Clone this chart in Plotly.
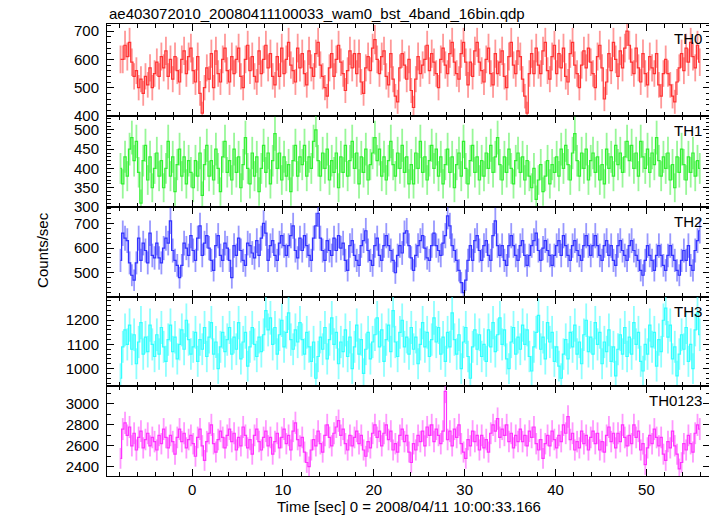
import numpy as np
import plotly.graph_objects as go

# ---- data: 0.25 s bins starting at -8 s ----
bin_width = 0.25
t_start = -8.0

th0 = [600,600,650,610,660,590,540,560,500,530,480,540,510,570,500,550,
       590,540,610,570,630,540,600,530,610,560,520,600,630,550,610,640,
       560,520,610,480,410,500,570,530,620,500,630,550,520,600,640,560,
       520,610,550,600,640,540,500,600,650,560,610,540,520,630,550,600,
       650,570,620,540,510,610,540,640,550,600,660,580,560,520,640,570,
       620,550,510,630,570,540,620,660,580,540,500,470,570,620,540,600,
       650,590,550,490,560,630,570,620,550,620,520,480,570,610,560,640,
       670,600,550,610,630,540,510,620,530,470,450,570,620,580,530,600,
       490,430,530,610,550,580,600,650,560,620,590,550,500,600,640,580,
       550,620,660,590,550,530,620,660,590,510,590,540,630,660,590,560,
       520,600,640,550,510,620,550,590,630,540,500,610,660,580,550,630,
       610,530,470,410,550,620,550,640,580,550,630,660,560,530,610,650,
       550,620,570,640,540,520,620,660,580,550,500,580,630,570,640,590,
       550,500,610,650,570,460,520,620,560,660,600,540,630,570,640,700,
       650,590,550,640,570,520,620,550,510,610,570,550,620,510,470,550,
       600,550,510,470,450,520,570,620,560,640,590,660,610,570,650,590]

th1 = [400,360,430,380,450,480,420,470,390,310,420,460,370,430,350,400,
       440,380,420,350,400,470,380,430,340,410,450,380,430,360,420,390,
       350,420,380,440,330,410,460,380,420,370,450,400,340,430,470,390,
       420,370,450,390,430,350,410,480,400,360,440,380,430,340,400,460,
       390,440,360,420,490,400,440,370,430,380,410,340,420,460,380,430,
       410,460,380,430,400,470,500,420,380,440,400,450,370,420,390,440,
       350,430,390,460,380,420,470,400,440,360,430,390,450,370,410,440,
       480,420,450,380,430,370,420,470,410,380,440,400,460,390,430,360,
       410,360,440,400,470,390,430,370,420,460,400,450,380,430,360,410,
       450,390,430,350,410,440,380,470,400,360,420,460,390,430,370,420,
       380,440,400,460,390,430,480,410,370,430,390,450,400,360,420,440,
       390,430,370,420,380,350,400,320,370,410,340,380,420,360,410,390,
       430,380,450,400,460,410,370,440,490,420,380,440,400,450,370,420,
       440,390,430,370,410,360,450,400,430,380,460,410,440,390,430,470,
       420,460,400,440,380,470,430,400,450,390,440,410,480,420,380,430,
       400,440,370,410,350,430,390,450,410,370,430,390,440,380,420,400]

th2 = [550,660,640,630,540,490,470,540,640,550,620,590,540,660,570,560,
       620,560,540,600,640,620,710,590,550,530,480,530,620,600,570,650,
       590,550,640,690,570,620,650,600,550,510,610,650,570,550,620,600,
       550,480,610,570,640,590,550,530,620,610,580,560,630,570,640,700,
       660,550,610,630,570,550,620,650,610,570,610,650,690,590,560,640,
       590,650,610,570,550,640,690,740,640,590,550,630,590,570,640,590,
       650,600,620,550,510,610,630,570,550,530,610,630,670,590,550,530,
       610,640,570,550,610,650,610,590,550,500,570,610,580,660,670,610,
       560,510,570,610,630,650,600,560,550,610,660,610,590,570,620,650,
       730,690,610,590,550,510,460,420,470,550,610,550,630,650,590,550,
       610,630,570,550,650,710,610,570,610,550,530,610,650,610,570,550,
       610,630,570,530,570,610,630,660,590,550,600,630,590,570,530,570,
       610,630,570,650,610,570,550,610,630,590,570,550,610,650,610,570,
       610,650,610,570,550,610,630,570,610,550,530,610,630,590,570,550,
       610,630,590,570,550,510,490,550,610,570,550,510,570,610,570,530,
       510,570,610,570,550,510,490,550,590,550,610,530,510,590,630,670]

th3 = [960,1090,1160,1100,1180,1080,1140,1020,1110,1190,1060,1130,1070,1180,1100,1050,
       1140,1060,1170,1090,1030,1120,1180,1070,1130,1040,1100,1160,1080,1200,1120,1060,
       1090,1150,1030,1120,1080,1170,1050,1130,1190,1060,1110,1000,1090,1150,1070,1120,
       1170,1060,1130,1080,1190,1040,1110,1150,1010,1090,1170,1100,1050,1130,1070,1140,
       1240,1160,1210,1100,1170,1060,1140,1200,1090,1150,1230,1120,1080,1160,1110,1190,
       1120,1060,1150,1090,1030,1110,960,1050,1130,1080,1170,1040,1120,1210,1100,1150,
       1020,1110,1070,1160,1050,1130,1000,1090,1180,1060,1120,980,1080,1150,1040,1110,
       1140,1210,1090,1160,1030,1120,1180,1070,1240,1110,1050,1150,1200,1090,1130,1060,
       1170,1080,1130,1020,1100,1190,1090,1150,1050,1120,1210,1110,1170,1060,1130,1030,
       1150,1090,1230,1120,1060,1140,1000,1110,1170,1050,960,1090,1160,1080,1140,1050,
       1100,1030,1160,1090,1190,1070,1140,1210,1100,1160,1040,1000,1110,1170,1060,1130,
       1080,1180,1100,1160,1050,990,1090,1150,1220,1080,1130,1040,1190,1110,1150,1030,
       1090,1010,960,1060,1120,1040,1150,1090,1180,1060,1110,1020,1140,1200,1070,1130,
       1060,1190,1100,1150,1020,1110,1070,1160,1030,1090,970,1080,1140,1060,1170,1050,
       1130,1060,1190,1100,1150,1030,990,1100,1060,1180,1090,1150,1010,1120,1070,1200,
       1250,1130,1180,1040,1090,970,1060,1140,1080,1170,1030,1100,1000,1160,1230,1140]

th0123 = [2480,2760,2820,2700,2780,2600,2720,2560,2680,2740,2580,2660,2720,2600,2680,2640,
          2560,2700,2620,2760,2680,2580,2700,2640,2520,2680,2760,2640,2720,2580,2660,2700,
          2620,2500,2680,2760,2600,2460,2640,2720,2800,2620,2540,2660,2740,2680,2580,2700,
          2760,2640,2720,2560,2680,2600,2780,2700,2580,2660,2520,2700,2760,2640,2560,2680,
          2740,2600,2680,2520,2640,2720,2580,2680,2760,2620,2700,2560,2740,2820,2660,2600,
          2680,2540,2440,2400,2560,2660,2600,2740,2620,2540,2700,2800,2680,2600,2720,2780,
          2840,2700,2760,2620,2560,2700,2600,2680,2740,2620,2700,2560,2500,2640,2580,2720,
          2800,2680,2740,2600,2720,2800,2660,2740,2560,2620,2540,2700,2760,2640,2700,2540,
          2440,2620,2560,2700,2640,2740,2600,2780,2700,2800,2640,2760,2700,2620,2740,3120,
          2660,2740,2600,2760,2680,2800,2620,2540,2480,2660,2600,2740,2640,2700,2560,2700,
          2580,2660,2540,2720,2800,2740,2860,2680,2760,2700,2800,2640,2720,2580,2700,2640,
          2760,2640,2700,2600,2740,2680,2780,2620,2560,2660,2480,2620,2700,2600,2740,2660,
          2580,2700,2640,2800,2720,2880,2660,2720,2560,2640,2580,2740,2620,2700,2560,2680,
          2740,2620,2720,2560,2640,2540,2700,2780,2640,2720,2580,2720,2640,2800,2680,2600,
          2700,2620,2800,2680,2740,2560,2620,2420,2580,2700,2620,2760,2680,2600,2680,2520,
          2460,2640,2580,2740,2600,2520,2380,2440,2620,2560,2700,2620,2540,2720,2800,2760]

labels = ["TH0", "TH1", "TH2", "TH3", "TH0123"]
series = [th0, th1, th2, th3, th0123]
colors = ["rgb(255,50,50)", "rgb(50,240,50)", "rgb(50,50,255)", "rgb(50,255,255)", "rgb(255,50,255)"]
err_colors = ["rgba(255,50,50,0.5)", "rgba(50,240,50,0.5)", "rgba(50,50,255,0.5)",
              "rgba(50,255,255,0.55)", "rgba(255,50,255,0.5)"]
y_ranges = [[400, 725], [300, 536], [402, 766], [928, 1296], [2311, 3172]]
y_dticks = [100, 50, 100, 100, 200]
y_minor = [20, 10, 20, 20, 100]
domains = [[0.7965, 1.0], [0.5951, 0.7965], [0.3960, 0.5951], [0.1991, 0.3960], [0.0, 0.1991]]

fig = go.Figure()
font = dict(family="Liberation Sans, Arial, sans-serif", size=15, color="black")

for i, (vals, lab) in enumerate(zip(series, labels)):
    v = np.array(vals, dtype=float)
    t = t_start + bin_width * (np.arange(len(v)) + 0.5)
    err = np.sqrt(v * bin_width) / bin_width
    ax = "" if i == 0 else str(i + 1)
    fig.add_trace(go.Scatter(
        x=t, y=v, mode="lines", line=dict(color=colors[i], width=1.2, shape="hvh"),
        error_y=dict(type="data", array=err, visible=True, color=err_colors[i],
                     thickness=1.8, width=0),
        xaxis="x" + ax, yaxis="y" + ax, showlegend=False, hoverinfo="skip"))

    common_x = dict(range=[-9.36, 57.0], dtick=10, tick0=0, ticks="inside", ticklen=7,
                    tickwidth=1, tickcolor="black", showline=True, linecolor="black",
                    linewidth=1, mirror="allticks", showgrid=False, zeroline=False,
                    minor=dict(dtick=2, ticks="inside", ticklen=4, tickcolor="black"),
                    anchor="y" + ax, tickfont=font)
    if i > 0:
        common_x["matches"] = "x"
    if i < 4:
        common_x["showticklabels"] = False
    fig.layout["xaxis" + ax] = common_x

    fig.layout["yaxis" + ax] = dict(
        range=y_ranges[i], dtick=y_dticks[i], tick0=0, domain=domains[i],
        ticks="inside", ticklen=7, tickwidth=1, tickcolor="black", showline=True,
        linecolor="black", linewidth=1, mirror="allticks", showgrid=False, zeroline=False,
        minor=dict(dtick=y_minor[i], ticks="inside", ticklen=4, tickcolor="black"),
        anchor="x" + ax, tickfont=font, ticklabelstandoff=4)

    fig.add_annotation(text=lab, xref="paper", yref="paper", x=0.99, y=domains[i][1],
                       xanchor="right", yanchor="top", yshift=-4, showarrow=False, font=font)

fig.add_annotation(text="ae403072010_20080411100033_wam0_bst_4band_16bin.qdp", xref="paper",
                   yref="paper", x=0.0, y=1.0, xanchor="left", yanchor="bottom", yshift=0,
                   showarrow=False, font=font)
fig.add_annotation(text="Counts/sec", xref="paper", yref="paper", x=-0.108, y=0.5,
                   xanchor="center", yanchor="middle", textangle=-90, showarrow=False, font=font)
fig.add_annotation(text="Time [sec] 0 = 2008/04/11 10:00:33.166", xref="paper", yref="paper",
                   x=0.5, y=0.0, xanchor="center", yanchor="middle", yshift=-30,
                   showarrow=False, font=font)

# page body adds an 8px margin, so the figure is sized to fit inside the window
fig.update_layout(width=709, height=508, margin=dict(l=99, r=7, t=16, b=40),
                  plot_bgcolor="white", paper_bgcolor="white", font=font)

fig.write_html("out.html")
